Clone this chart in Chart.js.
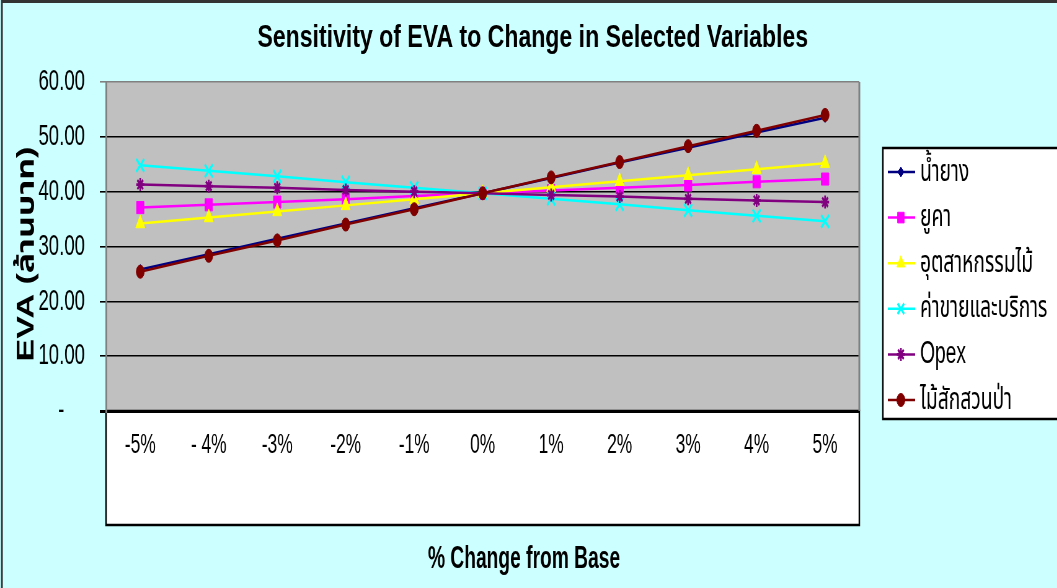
<!DOCTYPE html>
<html>
<head>
<meta charset="utf-8">
<script src="https://cdn.jsdelivr.net/npm/chart.js@4.4.1/dist/chart.umd.min.js"></script>
<style>
  html, body { margin: 0; padding: 0; overflow: hidden; background: #CCFFFF; }
  /* the chart is laid out wide and narrowed horizontally for its condensed look */
  #wrap { width: 1705px; height: 588px; transform: scaleX(0.62); transform-origin: 0 0; }
</style>
</head>
<body>
<div id="wrap"><canvas id="chart" width="1705" height="588"></canvas></div>
<script>
// ---- data ----
const categories = ['-5%', '- 4%', '-3%', '-2%', '-1%', '0%', '1%', '2%', '3%', '4%', '5%'];
const yTicks = [0, 10, 20, 30, 40, 50, 60];
const seriesNames = ['น้ำยาง', 'ยูคา', 'อุตสาหกรรมไม้', 'ค่าขายและบริการ', 'Opex', 'ไม้สักสวนป่า'];

const rubber       = [25.8, 28.6, 31.4, 34.2, 37.0, 39.7, 42.5, 45.3, 48.0, 50.8, 53.5];
const eucalyptus   = [37.1, 37.6, 38.1, 38.6, 39.2, 39.7, 40.2, 40.7, 41.2, 41.8, 42.3];
const woodIndustry = [34.2, 35.3, 36.4, 37.5, 38.6, 39.7, 40.8, 41.9, 43.0, 44.1, 45.2];
const salesService = [44.8, 43.8, 42.8, 41.7, 40.7, 39.7, 38.7, 37.7, 36.6, 35.6, 34.6];
const opex         = [41.3, 41.0, 40.7, 40.3, 40.0, 39.7, 39.4, 39.1, 38.7, 38.4, 38.1];
const teak         = [25.4, 28.3, 31.1, 34.0, 36.8, 39.7, 42.6, 45.4, 48.3, 51.1, 54.0];

const seriesValues = [rubber, eucalyptus, woodIndustry, salesService, opex, teak];

const chartTitle = 'Sensitivity of EVA to Change in Selected Variables';
const xTitle = '% Change from Base';
const yTitle = 'EVA (ล้านบาท)';

// ---- styling ----
const SQUEEZE = 0.62;
const FONT = "'Liberation Sans', Arial, 'Noto Sans Thai', 'Noto Sans', 'DejaVu Sans', sans-serif";
const seriesStyles = [
  { color: '#000080', pointStyle: 'rectRot',  radius: 5,   bw: 1 },
  { color: '#FF00FF', pointStyle: 'rect',     radius: 8.5, bw: 1 },
  { color: '#FFFF00', pointStyle: 'triangle', radius: 8.5, bw: 1 },
  { color: '#00FFFF', pointStyle: 'crossRot', radius: 9,   bw: 2.8 },
  { color: '#800080', pointStyle: 'star',     radius: 6.5, bw: 2.8 },
  { color: '#800000', pointStyle: 'circle',   radius: 6.5, bw: 1 }
];

const datasets = seriesNames.map((name, i) => {
  const st = seriesStyles[i];
  return {
    label: name,
    data: seriesValues[i],
    borderColor: st.color,
    backgroundColor: st.color,
    borderWidth: 2.5,
    tension: 0,
    pointStyle: st.pointStyle,
    pointRadius: st.radius,
    pointHoverRadius: st.radius,
    pointBackgroundColor: st.color,
    pointBorderColor: st.color,
    pointBorderWidth: st.bw,
    order: seriesNames.length - 1 - i
  };
});

// backgrounds, plot area, category panel and outer frame
const framePlugin = {
  id: 'frame',
  beforeDraw(chart) {
    const { ctx, chartArea: a, width, height } = chart;
    ctx.save();
    ctx.fillStyle = '#CCFFFF';
    ctx.fillRect(0, 0, width, height);
    ctx.strokeStyle = '#333333';
    ctx.lineWidth = 3;
    ctx.strokeRect(3, 1.5, width + 20, height + 20);
    ctx.fillStyle = '#C0C0C0';
    ctx.fillRect(a.left, a.top, a.width, a.height);
    ctx.fillStyle = '#FFFFFF';
    ctx.fillRect(a.left, a.bottom, a.width, 114);
    ctx.strokeStyle = '#000000';
    ctx.lineWidth = 2.5;
    ctx.strokeRect(a.left, a.bottom, a.width, 114);
    ctx.restore();
  },
  beforeDatasetsDraw(chart) {
    const { ctx, chartArea: a } = chart;
    ctx.save();
    ctx.strokeStyle = '#808080';
    ctx.lineWidth = 3;
    ctx.beginPath();
    ctx.moveTo(a.right, a.top);
    ctx.lineTo(a.right, a.bottom);
    ctx.stroke();
    ctx.restore();
  }
};

// chart title and axis titles
const titlesPlugin = {
  id: 'titles',
  afterDraw(chart) {
    const { ctx, width } = chart;
    ctx.save();
    ctx.fillStyle = '#000000';
    ctx.textAlign = 'center';
    ctx.textBaseline = 'alphabetic';

    // main title, a little wider than the rest of the text
    ctx.save();
    ctx.translate(width * 0.504, 47);
    ctx.scale(1.2, 1);
    ctx.font = 'bold 31px ' + FONT;
    ctx.fillText(chartTitle, 0, 0);
    ctx.restore();

    // x-axis title
    ctx.font = 'bold 31px ' + FONT;
    ctx.fillText(xTitle, width * 0.4957, 568);

    // y-axis title
    ctx.save();
    ctx.translate(27 / SQUEEZE, 254);
    ctx.scale(0.7 / SQUEEZE, 1);
    ctx.rotate(-Math.PI / 2);
    ctx.textBaseline = 'middle';
    ctx.font = 'bold 34px ' + FONT;
    ctx.fillText(yTitle, 0, 0);
    ctx.restore();

    ctx.restore();
  }
};

// boxed legend with line-and-marker keys
const legendPlugin = {
  id: 'boxLegend',
  afterDraw(chart) {
    const { ctx, chartArea: a } = chart;
    const x0 = a.right + 38, top = 148, h = 271, rowH = 45.6, firstY = 172;
    ctx.save();
    ctx.fillStyle = '#FFFFFF';
    ctx.fillRect(x0, top, 600, h);
    ctx.strokeStyle = '#000000';
    ctx.lineWidth = 2.5;
    ctx.strokeRect(x0, top, 600, h);
    chart.data.datasets.forEach((ds, i) => {
      const y = firstY + i * rowH;
      ctx.strokeStyle = ds.borderColor;
      ctx.lineWidth = 2.5;
      ctx.beginPath();
      ctx.moveTo(x0 + 8, y);
      ctx.lineTo(x0 + 52, y);
      ctx.stroke();
      ctx.fillStyle = ds.pointBackgroundColor;
      ctx.strokeStyle = ds.pointBorderColor;
      ctx.lineWidth = ds.pointBorderWidth;
      Chart.helpers.drawPoint(ctx, {
        pointStyle: ds.pointStyle, radius: Math.min(ds.pointRadius, 7.5), rotation: 0, borderWidth: ds.pointBorderWidth
      }, x0 + 29, y);
      ctx.fillStyle = '#000000';
      ctx.font = '31px ' + FONT;
      ctx.textBaseline = 'middle';
      ctx.textAlign = 'left';
      ctx.fillText(ds.label, x0 + 60, y);
    });
    ctx.restore();
  }
};

new Chart(document.getElementById('chart'), {
  type: 'line',
  data: { labels: categories, datasets: datasets },
  options: {
    responsive: false,
    animation: false,
    events: [],
    layout: { padding: { left: 3, right: 319, top: 82, bottom: 0 } },
    plugins: {
      legend: { display: false },
      tooltip: { enabled: false },
      title: { display: false }
    },
    scales: {
      x: {
        offset: true,
        grid: { display: false },
        border: { display: true, color: '#000000', width: 3 },
        ticks: { color: '#000000', font: { family: FONT, size: 28 }, padding: 9, maxRotation: 0, autoSkip: false },
        afterFit(scale) { scale.height = 177; }
      },
      y: {
        min: 0,
        max: 60,
        afterBuildTicks(scale) { scale.ticks = yTicks.map(v => ({ value: v })); },
        ticks: {
          color: '#000000',
          font: { family: FONT, size: 30 },
          padding: 24,
          callback: v => (v === 0 ? '-    ' : Number(v).toFixed(2))
        },
        grid: {
          color: c => (c.tick && c.tick.value === 60 ? '#808080' : '#000000'),
          lineWidth: c => (c.tick && c.tick.value === 0 ? 3 : 1.6),
          tickLength: 10,
          drawTicks: true
        },
        border: { color: '#808080', width: 3 },
        afterFit(scale) { scale.width = 168; }
      }
    }
  },
  plugins: [framePlugin, titlesPlugin, legendPlugin]
});
</script>
</body>
</html>
